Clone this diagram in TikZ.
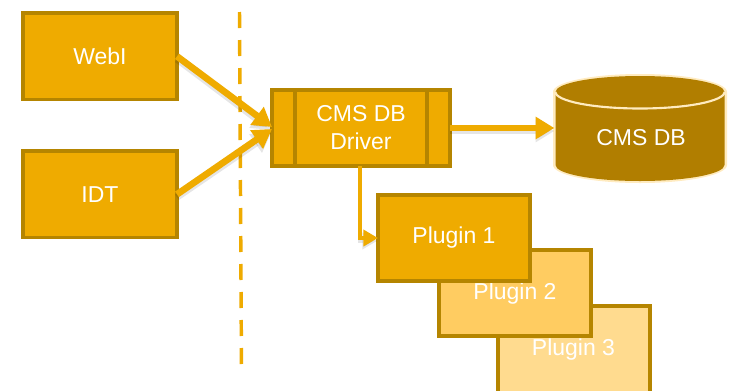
\documentclass[tikz,border=0pt]{standalone}
\usepackage{fontspec}
\setmainfont{Liberation Sans}
\usetikzlibrary{arrows.meta,calc}
\definecolor{gold}{HTML}{EFAB00}
\definecolor{edgegold}{HTML}{B58500}
\definecolor{dbgold}{HTML}{B17E00}
\definecolor{plugtwo}{HTML}{FFCC61}
\definecolor{plugthree}{HTML}{FFDB8F}
\definecolor{rimcol}{HTML}{FFEBC0}
\tikzset{
  x=0.75pt,y=-0.75pt,
  box/.style={draw=edgegold,line width=2.4pt,fill=gold,text=white,inner sep=0pt,outer sep=0pt,anchor=north west,align=center,font=\fontsize{17.25pt}{22pt}\selectfont},
  conn/.style={draw=gold,line width=5pt,-{Triangle[length=14pt,width=16pt]}},
  connthin/.style={draw=gold,line width=3.6pt,-{Triangle[length=11pt,width=12pt]}},
  connshadow/.style={draw=black,opacity=0.10,line width=5pt,-{Triangle[length=14pt,width=16pt]}},
  connthinshadow/.style={draw=black,opacity=0.10,line width=3.6pt,-{Triangle[length=11pt,width=12pt]}},
  dashline/.style={draw=gold,line width=2.6pt,dash pattern=on 12pt off 9pt},
  lbl/.style={text=white,font=\fontsize{17.25pt}{22pt}\selectfont}
}
\begin{document}
\begin{tikzpicture}
\useasboundingbox (0,0) rectangle (733,390);
\clip (0,0) rectangle (733,390);
\fill[white] (0,0) rectangle (733,390);
\coordinate (dashtop) at (239.5,12);
\coordinate (dashbot) at (241.5,372);
\draw[dashline] (dashtop) -- (dashbot);
\node[box,minimum width=115.5pt,minimum height=65pt] (webi) at (23,13) {WebI};
\node[box,minimum width=115.5pt,minimum height=65pt] (idt) at (23,151) {IDT};
\node[box,minimum width=133.5pt,minimum height=57pt] (driver) at (272,90) {CMS DB\\[-1pt]Driver};
\draw[edgegold,line width=2.4pt] ($(driver.north west)+(23,0)$) -- ($(driver.south west)+(23,0)$);
\draw[edgegold,line width=2.4pt] ($(driver.north east)+(-23,0)$) -- ($(driver.south east)+(-23,0)$);
% database cylinder
\fill[rimcol] (553,92) -- (553,165) arc[x radius=87,y radius=18,start angle=180,end angle=0] -- (727,92) arc[x radius=87,y radius=18,start angle=0,end angle=-180] -- cycle;
\fill[dbgold] (555.5,92) -- (555.5,165) arc[x radius=84.5,y radius=16,start angle=180,end angle=0] -- (724.5,92) arc[x radius=84.5,y radius=16,start angle=0,end angle=-180] -- cycle;
\draw[rimcol,line width=1.6pt] (555.5,92) arc[x radius=84.5,y radius=16.5,start angle=180,end angle=0];
\node[lbl,minimum width=127pt,minimum height=60pt,inner sep=0pt,outer sep=0pt] (db) at (641,138) {CMS DB};
\coordinate (dbin) at ($(db.west)+(-2,-10)$);
\node[box,fill=plugthree,minimum width=114pt,minimum height=70pt] (p3) at (498,306) {};
\node[lbl] (p3t) at (573.5,350) {Plugin 3};
\node[box,fill=plugtwo,minimum width=114pt,minimum height=64.5pt] (p2) at (439,250) {};
\node[lbl] (p2t) at (515,294) {Plugin 2};
\node[box,minimum width=114pt,minimum height=64.5pt] (p1) at (378,195) {Plugin 1};
% connector shadows
\draw[connshadow] ($(webi.east)+(0,3)$) -- ($(driver.west)+(-1,2)$);
\draw[connshadow] ($(idt.east)+(0,3)$) -- ($(driver.west)+(-1,5)$);
\draw[connshadow] ($(driver.east)+(0,3)$) -- ($(dbin)+(0,3)$);
\draw[connthinshadow] ($(driver.south west)+(88,3)$) -- ($(p1.west)+(-18,3)$) -- ($(p1.west)+(-1,3)$);
% connectors
\draw[conn] (webi.east) -- ($(driver.west)+(0,-1)$);
\draw[conn] (idt.east) -- ($(driver.west)+(0,1)$);
\draw[conn] (driver.east) -- (dbin);
\draw[connthin] ($(driver.south west)+(88,0)$) -- ($(p1.west)+(-18,0)$) -- (p1.west);
\end{tikzpicture}
\end{document}
